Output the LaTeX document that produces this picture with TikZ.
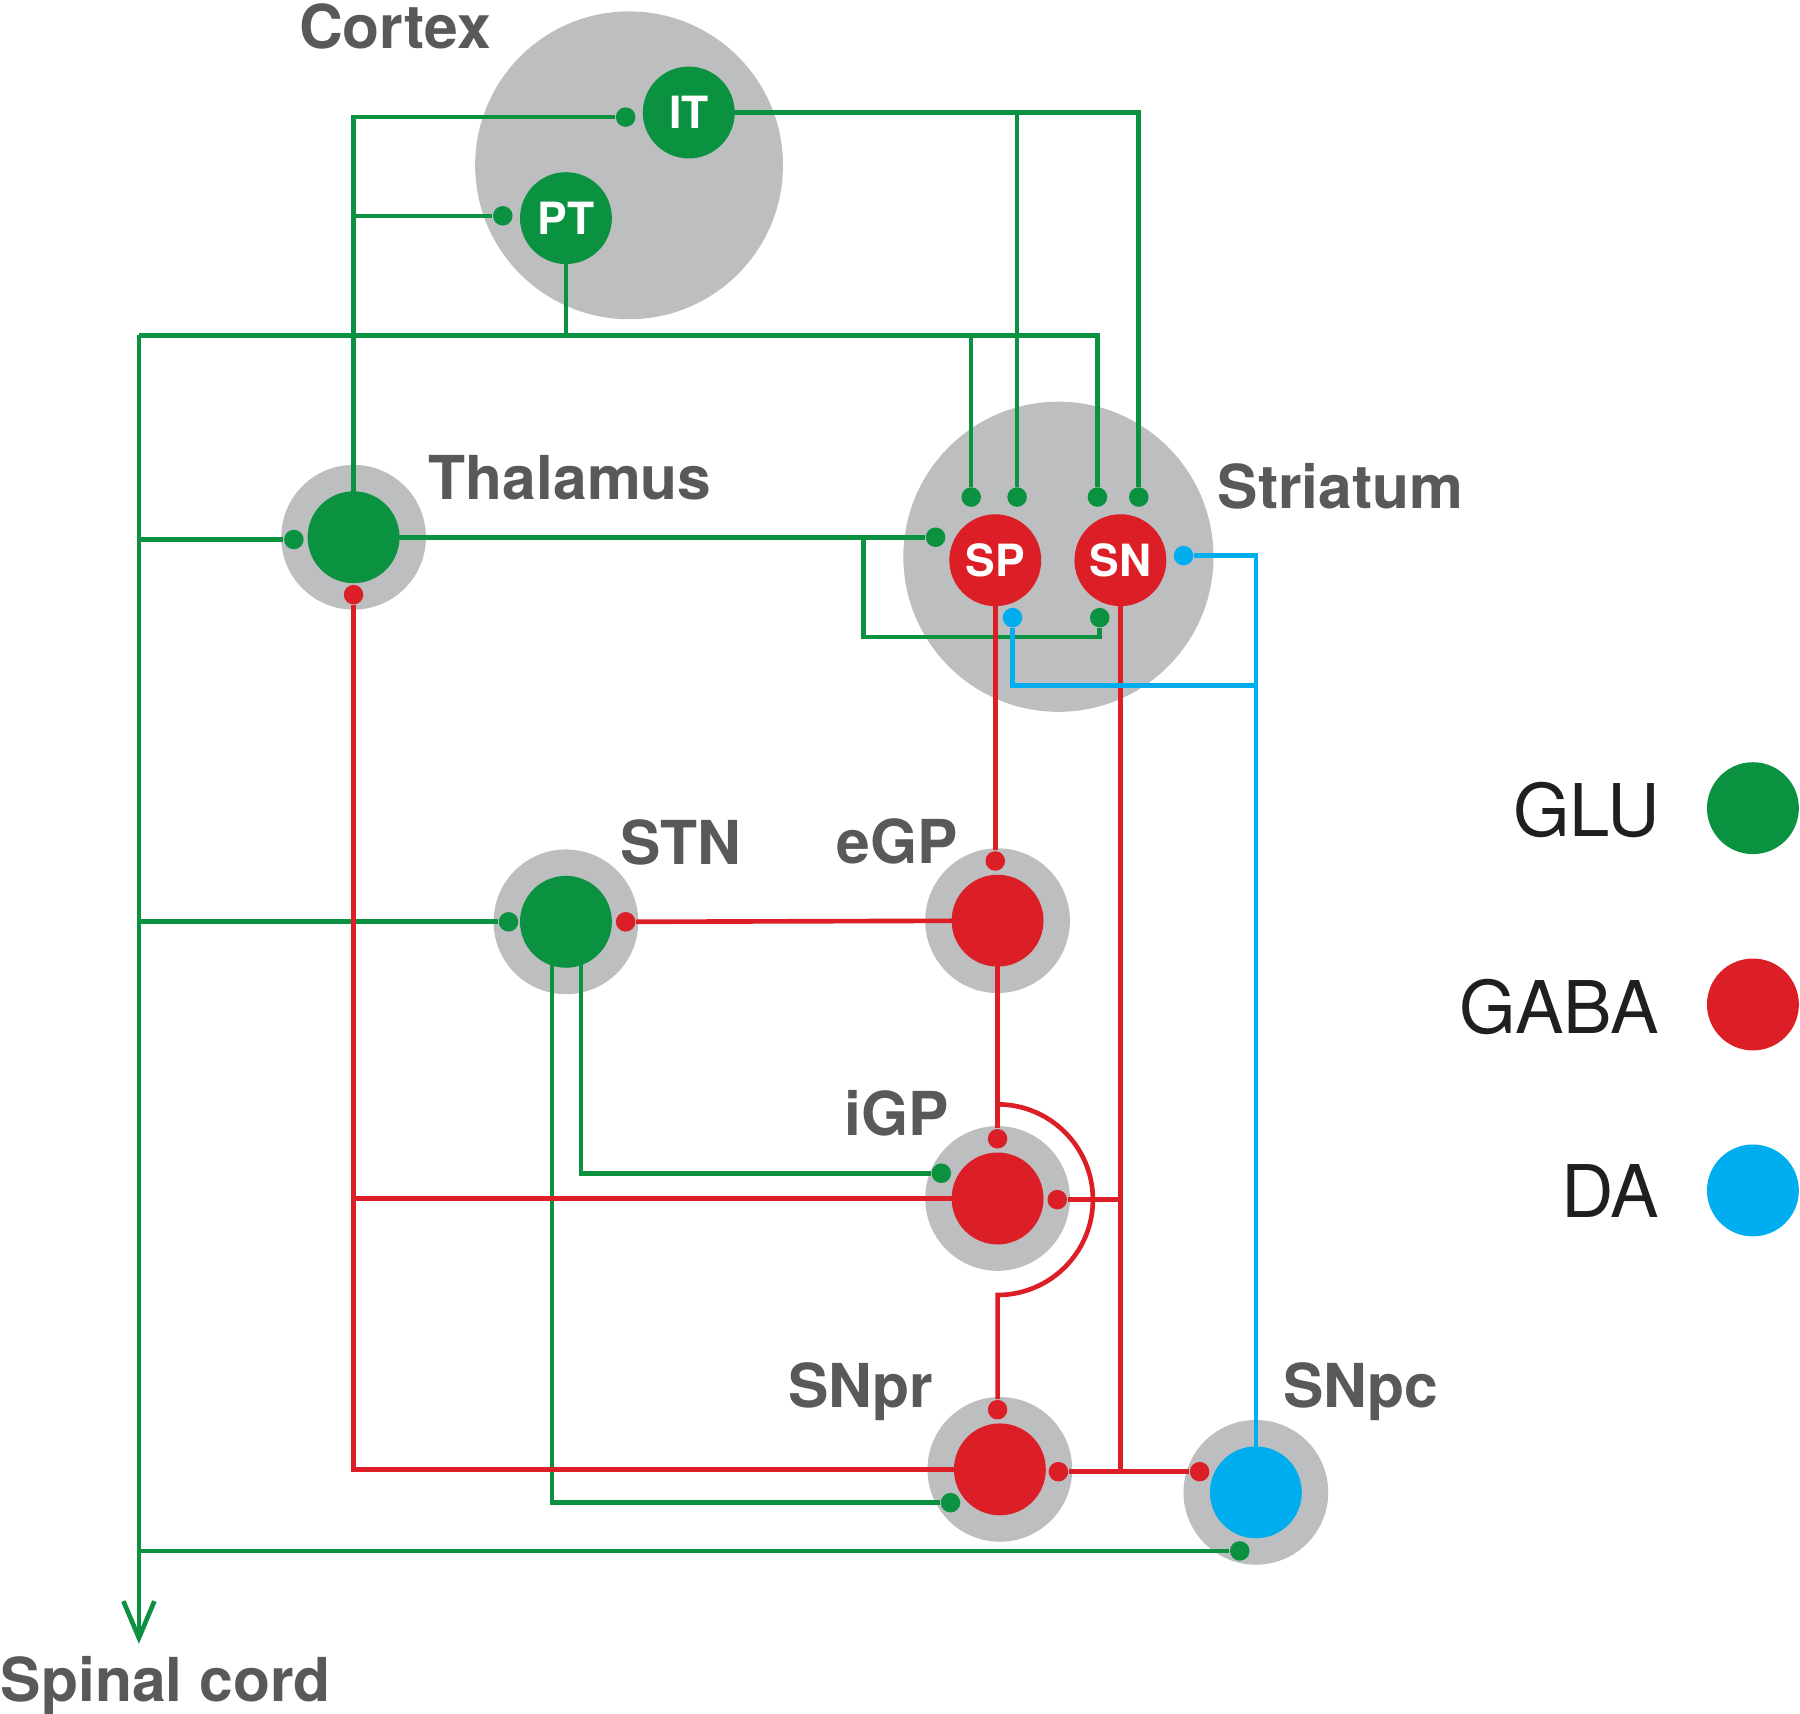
\documentclass[tikz,border=0pt]{standalone}
\usepackage{fontspec}
\setmainfont{TeX Gyre Heros}
\usetikzlibrary{arrows.meta}
\definecolor{glu}{RGB}{10,146,64}
\definecolor{gaba}{RGB}{220,30,38}
\definecolor{da}{RGB}{0,174,239}
\definecolor{tissue}{RGB}{188,190,192}
\definecolor{ink}{RGB}{88,89,91}
\pgfdeclarelayer{back}
\pgfdeclarelayer{wires}
\pgfsetlayers{back,wires,main}

\begin{document}
\begin{tikzpicture}[
	x=0.01cm, y=-0.01cm,
	region/.style={circle, fill=tissue, inner sep=0pt},
	ring/.style={region, minimum size=1.26cm},
	cell/.style={circle, fill=#1, inner sep=0pt, minimum size=0.8cm, text=white,
		font=\fontsize{11}{11}\selectfont\bfseries},
	syn/.style={circle, fill=#1, inner sep=0pt, minimum size=0.17cm},
	area/.style={anchor=base west, text=ink, inner sep=0pt,
		font=\fontsize{15}{15}\selectfont\bfseries},
	key/.style={anchor=base east, inner sep=0pt, text=black!88,
		font=\fontsize{18}{18}\selectfont},
	wire/.style={line width=1.15pt}]

\useasboundingbox (0,0) rectangle (1568,1493);

% grey nuclei
\begin{pgfonlayer}{back}
\node[region, minimum size=2.68cm] (cortex) at (548,144) {};
\node[region, minimum size=2.7cm] (striatum) at (922,485) {};
\node[ring] (thalR) at (308,468) {};
\node[ring] (STNR) at (493,803) {};
\node[ring] (eGPR) at (869,802) {};
\node[ring] (iGPR) at (869,1044) {};
\node[ring] (SNprR) at (871,1280) {};
\node[ring] (SNpcR) at (1094,1300) {};
\end{pgfonlayer}

% cell groups
\node[cell=glu] (IT) at (600,98) {IT};
\node[cell=glu] (PT) at (493,190) {PT};
\node[cell=gaba] (SP) at (867,488) {SP};
\node[cell=gaba] (SN) at (976,488) {SN};
\node[cell=glu] (thal) at (thalR) {};
\node[cell=glu] (STN) at (STNR) {};
\node[cell=gaba] (eGP) at (eGPR) {};
\node[cell=gaba] (iGP) at (iGPR) {};
\node[cell=gaba] (SNpr) at (SNprR) {};
\node[cell=da] (SNpc) at (SNpcR) {};

% names
\node[area] (cortexL) at (260,42) {Cortex};
\node[area] (thalL) at (373,435) {Thalamus};
\node[area] (striatumL) at (1060,443) {Striatum};
\node[area] (STNL) at (540,753) {STN};
\node[area] (eGPL) at (728,752) {eGP};
\node[area] (iGPL) at (735,989) {iGP};
\node[area] (SNprL) at (686,1226) {SNpr};
\node[area] (SNpcL) at (1117,1226) {SNpc};
\node[area] (spinalL) at (0,1482) {Spinal cord};

% synapses
\node[syn=glu] (dIT) at (545,102) {};
\node[syn=glu] (dPT) at (438,188) {};
\node[syn=glu] (dSP1) at (846,433) {};
\node[syn=glu] (dSP2) at (886,433) {};
\node[syn=glu] (dSN1) at (956,433) {};
\node[syn=glu] (dSN2) at (992,433) {};
\node[syn=glu] (dSPl) at (815,468) {};
\node[syn=glu] (dSNb) at (958,538) {};
\node[syn=glu] (dThal) at (256,470) {};
\node[syn=glu] (dSTNl) at (443,803) {};
\node[syn=glu] (diGPl) at (820,1022) {};
\node[syn=glu] (dSNprl) at (828,1309) {};
\node[syn=glu] (dSNpc) at (1080,1351) {};
\node[syn=gaba] (dThalb) at (308,518) {};
\node[syn=gaba] (deGP) at (867,750) {};
\node[syn=gaba] (dSTNr) at (545,803) {};
\node[syn=gaba] (diGPt) at (869,992) {};
\node[syn=gaba] (diGPr) at (921,1045) {};
\node[syn=gaba] (dSNprt) at (869,1228) {};
\node[syn=gaba] (dSNprr) at (922,1282) {};
\node[syn=gaba] (dSNpcl) at (1045,1282) {};
\node[syn=da] (dSNr) at (1031,484) {};
\node[syn=da] (dSPb) at (882,538) {};

\coordinate (trunk) at (121,292);
\coordinate (spinal) at (121,1432);
\coordinate (tloop) at (752,555);
\coordinate (bloop) at (882,597);
\coordinate (arctop) at (869,962);

\begin{pgfonlayer}{wires}
% glutamate
\draw[wire, glu] (thal.center) |- (dIT);
\draw[wire, glu] (thal.center |- dPT) -- (dPT);
\draw[wire, glu] (IT.center) -| (dSN2);
\draw[wire, glu] (IT.center -| dSP2) -- (dSP2);
\draw[wire, glu] (PT.center) |- (trunk);
\draw[wire, glu] (PT.center |- trunk) -| (dSN1);
\draw[wire, glu] (dSP1 |- trunk) -- (dSP1);
\draw[wire, glu, -{Straight Barb[length=0.32cm, width=0.27cm]}] (trunk) -- (spinal);
\draw[wire, glu] (trunk |- dThal) -- (dThal);
\draw[wire, glu] (trunk |- dSTNl) -- (dSTNl);
\draw[wire, glu] (trunk |- dSNpc) -- (dSNpc);
\draw[wire, glu] (thal.center) -- (dSPl);
\draw[wire, glu] (tloop |- dSPl) -- (tloop) -| (dSNb);
\draw[wire, glu] ([xshift=-0.12cm]STN.center) |- (dSNprl);
\draw[wire, glu] ([xshift=0.13cm]STN.center) |- (diGPl);
% GABA
\draw[wire, gaba] (SP.center) -- (deGP);
\draw[wire, gaba] (eGP.center) -- (dSTNr);
\draw[wire, gaba] (eGP.center) -- (diGPt);
\draw[wire, gaba] (arctop) arc[start angle=90, end angle=-90, radius=0.83cm] -- (dSNprt);
\draw[wire, gaba] (SN.center) -- (SN.center |- dSNprr);
\draw[wire, gaba] (dSNprr) -- (dSNpcl);
\draw[wire, gaba] (SN.center |- diGPr) -- (diGPr);
\draw[wire, gaba] (SNpr.center) -| (dThalb);
\draw[wire, gaba] (iGP.center) -- (iGP.center -| dThalb);
% dopamine
\draw[wire, da] (SNpc.center) |- (dSNr);
\draw[wire, da] (SNpc.center |- bloop) -| (dSPb);
\end{pgfonlayer}

% legend
\node[cell=glu] (kGLU) at (1527,704) {};
\node[cell=gaba] (kGABA) at (1527,875) {};
\node[cell=da] (kDA) at (1527,1037) {};
\node[key] (tGLU) at (1447,729) {GLU};
\node[key] (tGABA) at (1446,900) {GABA};
\node[key] (tDA) at (1446,1061) {DA};
\end{tikzpicture}
\end{document}
